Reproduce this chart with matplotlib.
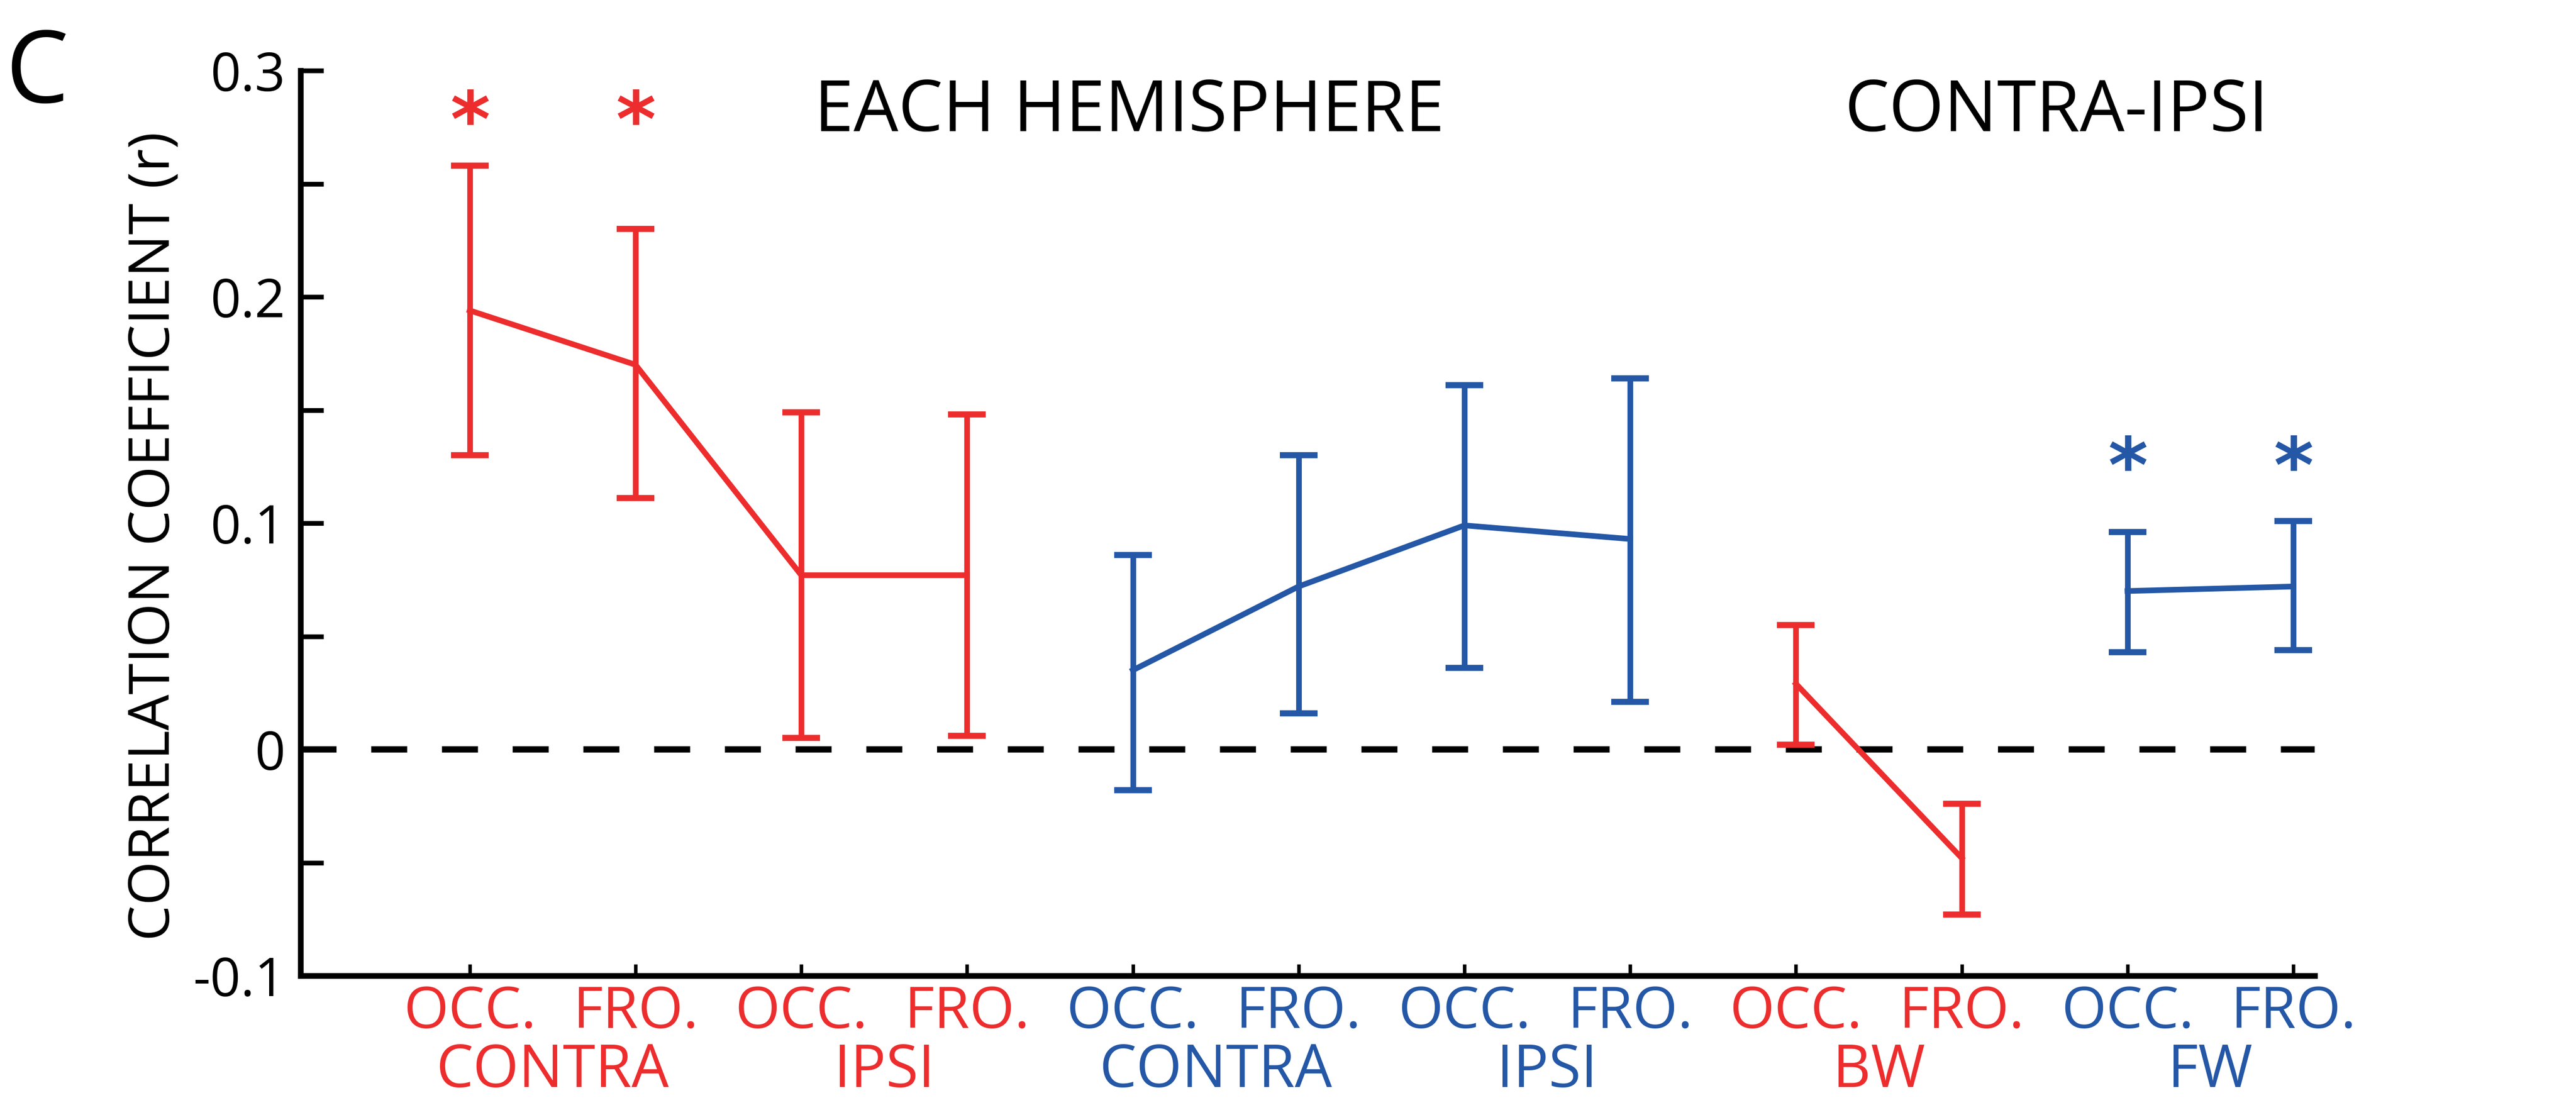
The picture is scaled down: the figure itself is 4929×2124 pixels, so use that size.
import numpy as np
import matplotlib.pyplot as plt
import matplotlib.transforms as mtransforms

plt.rcParams['font.family'] = ['Open Sans', 'DejaVu Sans']

RED = '#ED2D2D'
BLUE = '#2457A6'

# mean correlation and error bar ends for the 12 conditions
positions = [1, 2, 3, 4, 5, 6, 7, 8, 9, 10, 11, 12]
r_mean = [0.194, 0.170, 0.077, 0.077, 0.035, 0.072, 0.099, 0.093, 0.029, -0.048, 0.070, 0.072]
r_upper = [0.258, 0.230, 0.149, 0.148, 0.086, 0.130, 0.161, 0.164, 0.055, -0.024, 0.096, 0.101]
r_lower = [0.130, 0.111, 0.005, 0.006, -0.018, 0.016, 0.036, 0.021, 0.002, -0.073, 0.043, 0.044]

# connected groups: (first index, last index, colour)
groups = [(0, 4, RED), (4, 8, BLUE), (8, 10, RED), (10, 12, BLUE)]

tick_labels = ['OCC.', 'FRO.'] * 6
tick_colors = [RED] * 4 + [BLUE] * 4 + [RED] * 2 + [BLUE] * 2
group_names = ['CONTRA', 'IPSI', 'CONTRA', 'IPSI', 'BW', 'FW']
group_colors = [RED, RED, BLUE, BLUE, RED, BLUE]

# significance stars
stars_x = [1, 2, 11, 12]
stars_y = [0.276, 0.276, 0.123, 0.123]
stars_c = [RED, RED, BLUE, BLUE]

fig = plt.figure(figsize=(4929 / 300, 2124 / 300), dpi=300)
ax = fig.add_axes([0.1167, 0.121, 0.7819, 0.8154])

ax.axhline(0, color='black', lw=2.9, dashes=(5.7, 5.5), zorder=1)

mean = np.array(r_mean)
err = np.array([mean - np.array(r_lower), np.array(r_upper) - mean])
xs = np.array(positions)
for i0, i1, col in groups:
    ax.errorbar(xs[i0:i1], mean[i0:i1], yerr=err[:, i0:i1], color=col,
                lw=2.6, elinewidth=2.6, capsize=8.6, capthick=2.8, zorder=3)

for x, y, c in zip(stars_x, stars_y, stars_c):
    ax.text(x, y, '*', color=c, fontsize=35, fontweight='bold',
            ha='center', va='center', family='DejaVu Sans')

ax.set_xlim(-0.02, 12.13)
ax.set_ylim(-0.1, 0.3)

yt = np.round(np.arange(-0.1, 0.3001, 0.05), 2)
ax.set_yticks(yt)
ax.set_yticklabels(['-0.1', '', '0', '', '0.1', '', '0.2', '', '0.3'])
ax.tick_params(axis='y', direction='in', length=10.5, width=2.2, labelsize=24.5, pad=7)

ax.set_xticks(positions)
ax.set_xticklabels([])
ax.tick_params(axis='x', direction='in', length=5.3, width=1.6)

for side in ['top', 'right']:
    ax.spines[side].set_visible(False)
for side in ['left', 'bottom']:
    ax.spines[side].set_linewidth(2.6)

# two rows of category names: site under each tick, condition under each pair
trans = mtransforms.blended_transform_factory(ax.transData, fig.transFigure)
for x, name, c in zip(positions, tick_labels, tick_colors):
    ax.text(x, 0.0739, name, color=c, fontsize=26.5,
            ha='center', va='baseline', transform=trans)
for k, (name, c) in enumerate(zip(group_names, group_colors)):
    ax.text(2 * k + 1.5, 0.0207, name, color=c, fontsize=27,
            ha='center', va='baseline', transform=trans)

fig.text(0.0600, 0.517, 'CORRELATION COEFFICIENT (r)', fontsize=26,
         rotation=90, ha='center', va='center')

fig.text(0.4384, 0.8818, 'EACH HEMISPHERE', fontsize=32.5, ha='center', va='baseline')
fig.text(0.7985, 0.8818, 'CONTRA-IPSI', fontsize=32.5, ha='center', va='baseline')
fig.text(0.002, 0.9077, 'C', fontsize=46, ha='left', va='baseline')

fig.savefig('out.png', dpi=300)
